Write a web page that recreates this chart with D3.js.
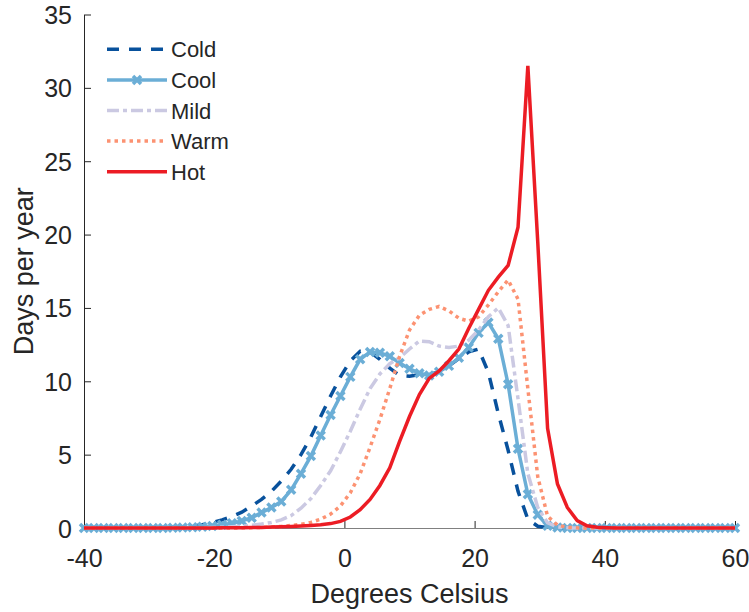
<!DOCTYPE html>
<html>
<head>
<meta charset="utf-8">
<script src="https://cdn.jsdelivr.net/npm/d3@7"></script>
<style>
  body { margin: 0; background: #fff; }
  svg text { font-family: "Liberation Sans", Arial, Helvetica, sans-serif; fill: #262626; }
</style>
</head>
<body>
<div id="chart"></div>
<script>
// temperature bins (degrees C)
const temps = [-40, -38.48, -36.97, -35.45, -33.94, -32.42, -30.91, -29.39, -27.88, -26.36,
  -24.85, -23.33, -21.82, -20.30, -18.79, -17.27, -15.76, -14.24, -12.73, -11.21,
  -9.70, -8.18, -6.67, -5.15, -3.64, -2.12, -0.61, 0.91, 2.42, 3.94,
  5.45, 6.97, 8.48, 10.00, 11.52, 13.03, 14.55, 16.06, 17.58, 19.09,
  20.61, 22.12, 23.64, 25.15, 26.67, 28.18, 29.70, 31.21, 32.73, 34.24,
  35.76, 37.27, 38.79, 40.30, 41.82, 43.33, 44.85, 46.36, 47.88, 49.39,
  50.91, 52.42, 53.94, 55.45, 56.97, 58.48, 60.00]

// days per year in each bin
const cold = [0, 0, 0, 0, 0, 0, 0, 0.01, 0.02, 0.04,
  0.07, 0.13, 0.22, 0.36, 0.55, 0.78, 1.08, 1.5, 1.95, 2.5,
  3.2, 4.0, 5.0, 6.2, 7.6, 9.0, 10.3, 11.4, 12.05, 12.0,
  11.5, 10.9, 10.4, 10.35, 10.45, 10.45, 10.65, 11.05, 11.55, 12.0,
  12.2, 10.6, 7.8, 5.3, 2.5, 0.6, 0.12, 0.02, 0, 0,
  0, 0, 0, 0, 0, 0, 0, 0, 0, 0,
  0, 0, 0, 0, 0, 0, 0]
const cool = [0, 0, 0, 0, 0, 0, 0, 0, 0, 0.01,
  0.03, 0.05, 0.09, 0.14, 0.22, 0.33, 0.48, 0.7, 1.05, 1.4,
  1.8, 2.6, 3.7, 4.9, 6.3, 7.7, 9.0, 10.3, 11.5, 12.0,
  11.95, 11.7, 11.25, 10.85, 10.55, 10.4, 10.65, 11.05, 11.6, 12.3,
  13.3, 14.0, 12.9, 9.8, 5.4, 2.3, 0.9, 0.15, 0.03, 0,
  0, 0, 0, 0, 0, 0, 0, 0, 0, 0,
  0, 0, 0, 0, 0, 0, 0]
const mild = [0, 0, 0, 0, 0, 0, 0, 0, 0, 0,
  0, 0, 0.02, 0.03, 0.05, 0.08, 0.12, 0.18, 0.27, 0.38,
  0.55, 0.85, 1.35, 2.0, 2.9, 3.9, 5.2, 6.6, 8.1, 9.5,
  10.5, 11.2, 11.6, 12.2, 12.75, 12.7, 12.4, 12.3, 12.4, 12.8,
  13.5, 14.4, 15.0, 13.8, 8.8, 3.7, 1.4, 0.35, 0.08, 0.02,
  0, 0, 0, 0, 0, 0, 0, 0, 0, 0,
  0, 0, 0, 0, 0, 0, 0]
const warm = [0, 0, 0, 0, 0, 0, 0, 0, 0, 0,
  0, 0, 0, 0, 0, 0, 0.01, 0.02, 0.04, 0.07,
  0.11, 0.17, 0.25, 0.38, 0.6, 0.95, 1.5, 2.4, 3.7, 5.5,
  7.4, 9.5, 11.7, 13.5, 14.5, 14.9, 15.1, 14.8, 14.3, 14.1,
  14.4, 15.2, 16.1, 16.9, 15.6, 9.5, 3.5, 0.8, 0.2, 0.05,
  0.01, 0, 0, 0, 0, 0, 0, 0, 0, 0,
  0, 0, 0, 0, 0, 0, 0]
const hot = [0, 0, 0, 0, 0, 0, 0, 0, 0, 0,
  0, 0, 0, 0, 0.01, 0.01, 0.02, 0.03, 0.04, 0.06,
  0.08, 0.1, 0.13, 0.17, 0.22, 0.3, 0.45, 0.75, 1.25, 1.95,
  2.9, 4.1, 5.9, 7.6, 9.1, 10.2, 10.7, 11.4, 12.2, 13.6,
  14.9, 16.2, 17.1, 17.9, 20.5, 31.5, 19.5, 6.8, 3.0, 1.4,
  0.5, 0.15, 0.05, 0.02, 0, 0, 0, 0, 0, 0,
  0, 0, 0, 0, 0, 0, 0]

const seriesNames = ["Cold", "Cool", "Mild", "Warm", "Hot"]
const xTicks = [-40, -20, 0, 20, 40, 60]
const yTicks = [0, 5, 10, 15, 20, 25, 30, 35]

const width = 749, height = 612
const margin = {top: 14.5, right: 14, bottom: 84, left: 84}

const svg = d3.select("#chart")
    .append("svg")
    .attr("width", width)
    .attr("height", height)

const x = d3.scaleLinear().domain([-40, 60]).range([margin.left, width - margin.right])
const y = d3.scaleLinear().domain([0, 35]).range([height - margin.bottom, margin.top])

// line styles per series
const styles = {
    Cold: {color: "#08519c", dash: "12,10", values: cold},
    Cool: {color: "#6baed6", dash: null, values: cool, marker: true},
    Mild: {color: "#cbc9e2", dash: "12,4,4,4", values: mild},
    Warm: {color: "#fc9272", dash: "3.5,4", values: warm},
    Hot: {color: "#ec1c24", dash: null, values: hot}
}

// axes (plain hyphen for negative labels)
const xAxis = d3.axisBottom(x).tickValues(xTicks).tickFormat(d => String(d))
    .tickSizeInner(-7).tickSizeOuter(0).tickPadding(21)
const yAxis = d3.axisLeft(y).tickValues(yTicks).tickFormat(d => String(d))
    .tickSizeInner(-7).tickSizeOuter(0).tickPadding(12)

const gx = svg.append("g")
    .attr("transform", "translate(0," + y(0) + ")")
    .call(xAxis)
gx.select(".domain").attr("stroke", "#808080")
gx.selectAll(".tick line").attr("stroke", "#262626")
gx.selectAll("text").style("font-size", "25px").attr("fill", "#262626")

const gy = svg.append("g")
    .attr("transform", "translate(" + x(-40) + ",0)")
    .call(yAxis)
gy.select(".domain").attr("stroke", "#262626")
gy.selectAll(".tick line").attr("stroke", "#262626")
gy.selectAll("text").style("font-size", "25px").attr("fill", "#262626").attr("dy", "0.36em")

// axis titles
svg.append("text")
    .attr("x", (x(-40) + x(60)) / 2)
    .attr("y", 603)
    .attr("text-anchor", "middle")
    .style("font-size", "27px")
    .text("Degrees Celsius")

svg.append("text")
    .attr("transform", "translate(33," + ((y(0) + y(35)) / 2) + ") rotate(-90)")
    .attr("text-anchor", "middle")
    .style("font-size", "27px")
    .text("Days per year")

// lines
const line = d3.line()
    .x((d, i) => x(temps[i]))
    .y(d => y(d))

const xMark = "M-4,-4L4,4M-4,4L4,-4"

seriesNames.forEach(function (name) {
    const s = styles[name]
    svg.append("path")
        .datum(s.values)
        .attr("fill", "none")
        .attr("stroke", s.color)
        .attr("stroke-width", 3.5)
        .attr("stroke-dasharray", s.dash)
        .attr("d", line)

    if (s.marker) {
        svg.append("g")
            .selectAll("path")
            .data(s.values)
            .enter()
            .append("path")
            .attr("transform", (d, i) => "translate(" + x(temps[i]) + "," + y(d) + ")")
            .attr("d", xMark)
            .attr("stroke", s.color)
            .attr("stroke-width", 3.5)
            .attr("fill", "none")
    }
})

// legend
const legend = svg.append("g")
const rowY = d3.scaleBand().domain(seriesNames).range([34, 187])

seriesNames.forEach(function (name) {
    const s = styles[name]
    const cy = rowY(name) + rowY.bandwidth() / 2
    legend.append("line")
        .attr("x1", 107).attr("x2", 167)
        .attr("y1", cy).attr("y2", cy)
        .attr("stroke", s.color)
        .attr("stroke-width", 3.5)
        .attr("stroke-dasharray", s.dash)
    if (s.marker) {
        legend.append("path")
            .attr("transform", "translate(137," + cy + ")")
            .attr("d", xMark)
            .attr("stroke", s.color)
            .attr("stroke-width", 3.5)
    }
    legend.append("text")
        .attr("x", 171)
        .attr("y", cy + 8)
        .style("font-size", "22px")
        .text(name)
})
</script>
</body>
</html>
